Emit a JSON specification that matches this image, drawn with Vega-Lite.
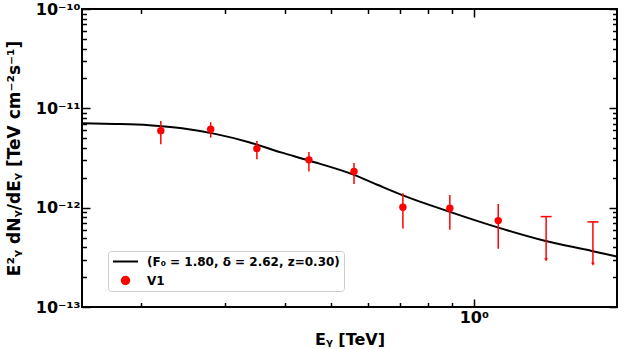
{
  "$schema": "https://vega.github.io/schema/vega-lite/v6.json",
  "width": 535,
  "height": 298,
  "autosize": {"type": "none"},
  "padding": {"left": 82, "top": 9, "right": 6, "bottom": 42},
  "config": {
    "font": "DejaVu Sans",
    "view": {"stroke": "black", "strokeWidth": 2},
    "axis": {
      "domain": false,
      "grid": false,
      "tickColor": "black",
      "tickWidth": 1.5,
      "labelFont": "DejaVu Sans",
      "labelFontWeight": "bold",
      "labelFontSize": 16,
      "labelColor": "black",
      "labelFlush": false,
      "labelOverlap": false,
      "titleFont": "DejaVu Sans",
      "titleFontWeight": "bold",
      "titleFontSize": 16,
      "titleColor": "black"
    }
  },
  "datasets": {
    "curve": [
      {"e": 0.1501, "f": 7.08e-12},
      {"e": 0.1761, "f": 6.97e-12},
      {"e": 0.2076, "f": 6.76e-12},
      {"e": 0.2435, "f": 6.31e-12},
      {"e": 0.2857, "f": 5.53e-12},
      {"e": 0.3367, "f": 4.56e-12},
      {"e": 0.395, "f": 3.58e-12},
      {"e": 0.45, "f": 2.98e-12},
      {"e": 0.5598, "f": 2.14e-12},
      {"e": 0.6285, "f": 1.69e-12},
      {"e": 0.7093, "f": 1.33e-12},
      {"e": 0.8903, "f": 9.08e-13},
      {"e": 1.1177, "f": 6.37e-13},
      {"e": 1.4099, "f": 4.64e-13},
      {"e": 1.7699, "f": 3.67e-13},
      {"e": 1.997, "f": 3.22e-13}
    ],
    "pts": [
      {"e": 0.2197, "f": 5.96e-12, "lo": 4.36e-12, "hi": 7.46e-12},
      {"e": 0.2797, "f": 6.16e-12, "lo": 5.07e-12, "hi": 7.24e-12},
      {"e": 0.3498, "f": 3.93e-12, "lo": 3.08e-12, "hi": 4.7e-12},
      {"e": 0.45, "f": 3.03e-12, "lo": 2.31e-12, "hi": 3.64e-12},
      {"e": 0.5598, "f": 2.31e-12, "lo": 1.73e-12, "hi": 2.82e-12},
      {"e": 0.7093, "f": 1.01e-12, "lo": 6.16e-13, "hi": 1.4e-12},
      {"e": 0.8903, "f": 9.89e-13, "lo": 5.98e-13, "hi": 1.34e-12},
      {"e": 1.1254, "f": 7.41e-13, "lo": 3.86e-13, "hi": 1.09e-12}
    ],
    "ul": [
      {"e": 1.419, "ul": 8.13e-13, "lo": 2.98e-13},
      {"e": 1.78, "ul": 7.19e-13, "lo": 2.7e-13}
    ]
  },
  "resolve": {"axis": {"x": "independent", "y": "independent"}},
  "layer": [
    {
      "data": {"name": "curve"},
      "mark": {"type": "line", "strokeWidth": 2, "interpolate": "monotone", "clip": true},
      "encoding": {
        "x": {
          "field": "e", "type": "quantitative",
          "scale": {"type": "log", "domain": [0.15, 2.0], "nice": false},
          "axis": {
            "title": "Eᵧ [TeV]",
            "orient": "bottom",
            "values": [0.2, 0.3, 0.4, 0.5, 0.6, 0.7, 0.8, 0.9, 1],
            "labelExpr": "datum.value == 1 ? '10⁰' : ''",
            "tickSize": {"condition": {"test": "datum.value == 1", "value": -8}, "value": -4.5},
            "labelPadding": 10,
            "titlePadding": 3
          }
        },
        "y": {
          "field": "f", "type": "quantitative",
          "scale": {"type": "log", "domain": [1e-13, 1e-10], "nice": false},
          "axis": {
            "title": "E²ᵧ dNᵧ/dEᵧ [TeV cm⁻²s⁻¹]",
            "titleFontSize": 17,
            "orient": "left",
            "values": [1e-13, 2e-13, 3e-13, 4e-13, 5e-13, 6e-13, 7e-13, 8e-13, 9e-13, 1e-12, 2e-12, 3e-12, 4e-12, 5e-12, 6e-12, 7e-12, 8e-12, 9e-12, 1e-11, 2e-11, 3e-11, 4e-11, 5e-11, 6e-11, 7e-11, 8e-11, 9e-11, 1e-10],
            "labelExpr": "abs(log(datum.value)/LN10 - round(log(datum.value)/LN10)) < 0.001 ? (round(log(datum.value)/LN10) == -10 ? '10⁻¹⁰' : round(log(datum.value)/LN10) == -11 ? '10⁻¹¹' : round(log(datum.value)/LN10) == -12 ? '10⁻¹²' : '10⁻¹³') : ''",
            "tickSize": {"condition": {"test": "abs(log(datum.value)/LN10 - round(log(datum.value)/LN10)) < 0.001", "value": -8}, "value": -4.5},
            "labelPadding": 10,
            "titlePadding": 12
          }
        },
        "color": {
          "datum": "(F₀ = 1.80, δ = 2.62, z=0.30)",
          "scale": {"domain": ["(F₀ = 1.80, δ = 2.62, z=0.30)", "V1"], "range": ["black", "red"]},
          "legend": {
            "title": null,
            "orient": "none",
            "legendX": 26,
            "legendY": 242,
            "padding": 4,
            "rowPadding": 6,
            "clipHeight": 13,
            "labelFont": "DejaVu Sans",
            "labelFontWeight": "bold",
            "labelFontSize": 12,
            "labelColor": "black",
            "labelLimit": 400,
            "labelOffset": 8,
            "strokeColor": "#cccccc",
            "fillColor": "white",
            "cornerRadius": 3,
            "symbolSize": 625,
            "symbolStrokeWidth": 2,
            "encode": {
              "symbols": {
                "update": {
                  "shape": {"signal": "datum.value === 'V1' ? 'circle' : 'stroke'"},
                  "size": {"signal": "datum.value === 'V1' ? 55 : 625"},
                  "stroke": {"signal": "datum.value === 'V1' ? 'transparent' : 'black'"},
                  "fill": {"signal": "datum.value === 'V1' ? 'red' : 'transparent'"},
                  "strokeWidth": {"value": 2}
                }
              }
            }
          }
        }
      }
    },
    {
      "data": {"name": "pts"},
      "mark": {"type": "rule", "color": "red", "strokeWidth": 1.5},
      "encoding": {
        "x": {"field": "e", "type": "quantitative", "scale": {"type": "log", "domain": [0.15, 2.0], "nice": false}, "axis": null},
        "y": {"field": "lo", "type": "quantitative", "scale": {"type": "log", "domain": [1e-13, 1e-10], "nice": false}, "axis": null},
        "y2": {"field": "hi"}
      }
    },
    {
      "data": {"name": "pts"},
      "mark": {"type": "point", "filled": true, "opacity": 1, "size": 55, "shape": "circle"},
      "encoding": {
        "x": {
          "field": "e", "type": "quantitative",
          "scale": {"type": "log", "domain": [0.15, 2.0], "nice": false},
          "axis": {
            "title": null,
            "orient": "top",
            "labels": false,
            "values": [0.2, 0.3, 0.4, 0.5, 0.6, 0.7, 0.8, 0.9, 1],
            "tickSize": {"condition": {"test": "datum.value == 1", "value": -8}, "value": -4.5}
          }
        },
        "y": {
          "field": "f", "type": "quantitative",
          "scale": {"type": "log", "domain": [1e-13, 1e-10], "nice": false},
          "axis": {
            "title": null,
            "orient": "right",
            "labels": false,
            "values": [1e-13, 2e-13, 3e-13, 4e-13, 5e-13, 6e-13, 7e-13, 8e-13, 9e-13, 1e-12, 2e-12, 3e-12, 4e-12, 5e-12, 6e-12, 7e-12, 8e-12, 9e-12, 1e-11, 2e-11, 3e-11, 4e-11, 5e-11, 6e-11, 7e-11, 8e-11, 9e-11, 1e-10],
            "tickSize": {"condition": {"test": "abs(log(datum.value)/LN10 - round(log(datum.value)/LN10)) < 0.001", "value": -8}, "value": -4.5}
          }
        },
        "color": {"datum": "V1"}
      }
    },
    {
      "data": {"name": "ul"},
      "mark": {"type": "rule", "color": "red", "strokeWidth": 1.5},
      "encoding": {
        "x": {"field": "e", "type": "quantitative", "scale": {"type": "log", "domain": [0.15, 2.0], "nice": false}, "axis": null},
        "y": {"field": "lo", "type": "quantitative", "scale": {"type": "log", "domain": [1e-13, 1e-10], "nice": false}, "axis": null},
        "y2": {"field": "ul"}
      }
    },
    {
      "data": {"name": "ul"},
      "mark": {"type": "point", "shape": "stroke", "filled": false, "color": "red", "strokeWidth": 1.5, "size": 121, "opacity": 1},
      "encoding": {
        "x": {"field": "e", "type": "quantitative", "scale": {"type": "log", "domain": [0.15, 2.0], "nice": false}, "axis": null},
        "y": {"field": "ul", "type": "quantitative", "scale": {"type": "log", "domain": [1e-13, 1e-10], "nice": false}, "axis": null}
      }
    },
    {
      "data": {"name": "ul"},
      "mark": {"type": "point", "shape": "triangle-down", "filled": true, "color": "red", "size": 14, "opacity": 1},
      "encoding": {
        "x": {"field": "e", "type": "quantitative", "scale": {"type": "log", "domain": [0.15, 2.0], "nice": false}, "axis": null},
        "y": {"field": "lo", "type": "quantitative", "scale": {"type": "log", "domain": [1e-13, 1e-10], "nice": false}, "axis": null}
      }
    }
  ]
}
